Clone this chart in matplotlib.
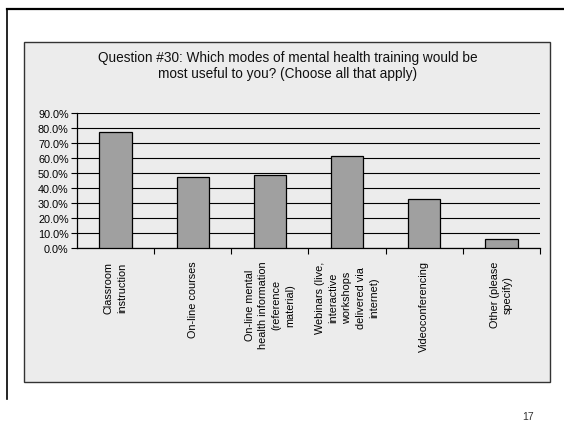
import matplotlib
matplotlib.use("Agg")
import matplotlib.pyplot as plt
from matplotlib.patches import Rectangle
from matplotlib.lines import Line2D
from matplotlib.ticker import FixedLocator, FuncFormatter

plt.rcParams["font.family"] = ["Liberation Sans", "DejaVu Sans"]

categories = [
    "Classroom\ninstruction",
    "On-line courses",
    "On-line mental\nhealth information\n(reference\nmaterial)",
    "Webinars (live,\ninteractive\nworkshops\ndelivered via\ninternet)",
    "Videoconferencing",
    "Other (please\nspecify)",
]
values = [77.3, 47.3, 48.7, 61.3, 32.7, 6.0]
y_ticks = [0, 10, 20, 30, 40, 50, 60, 70, 80, 90]
title = ("Question #30: Which modes of mental health training would be\n"
         "most useful to you? (Choose all that apply)")
page_no = "17"

W, H = 564, 427
fig = plt.figure(figsize=(W / 100, H / 100), dpi=100)
fig.patch.set_facecolor("white")

# page frame (top + left edge of the scanned slide)
fig.add_artist(Line2D([7 / W, 1.0], [1 - 10 / H, 1 - 10 / H], color="black", lw=1.6))
fig.add_artist(Line2D([7 / W, 7 / W], [1 - 10 / H, 1 - 400 / H], color="black", lw=1.2))

# chart box
box_l, box_r, box_t, box_b = 24, 550, 43, 383
fig.add_artist(Rectangle((box_l / W, 1 - box_b / H), (box_r - box_l) / W, (box_b - box_t) / H,
                         facecolor="#ececec", edgecolor="#333333", lw=1.0, zorder=0))

fig.text(288 / W, 1 - 66 / H, title, ha="center", va="center", fontsize=9.8,
         linespacing=1.2, color="#111111")

# plot area
ax_l, ax_r, ax_t, ax_b = 77, 540, 114, 249
ax = fig.add_axes([ax_l / W, 1 - ax_b / H, (ax_r - ax_l) / W, (ax_b - ax_t) / H])
ax.set_facecolor("none")

x = range(len(categories))
ax.bar(x, values, width=0.42, color="#a0a0a0", edgecolor="black", lw=0.9, zorder=3)

ax.set_xlim(-0.5, len(categories) - 0.5)
ax.set_ylim(0, 90)
ax.set_yticks(y_ticks)
ax.yaxis.set_major_formatter(FuncFormatter(lambda v, p: f"{v:.1f}%"))
ax.tick_params(axis="y", direction="out", length=4, width=0.8, labelsize=7.8, pad=2)
ax.yaxis.grid(True, color="black", lw=0.8)
ax.set_axisbelow(True)

ax.set_xticks(list(x))
ax.set_xticklabels(categories, rotation=90, fontsize=7.8, va="top", ha="center",
                   multialignment="center", linespacing=1.45)
ax.tick_params(axis="x", which="major", length=0, pad=9)
ax.xaxis.set_minor_locator(FixedLocator([i + 0.5 for i in range(len(categories))]))
ax.tick_params(axis="x", which="minor", direction="out", length=4, width=0.8)

for s in ["top", "right"]:
    ax.spines[s].set_visible(False)
ax.spines["left"].set_linewidth(0.9)
ax.spines["bottom"].set_linewidth(0.9)

fig.text(528 / W, 1 - 417 / H, page_no, ha="center", va="center", fontsize=7.5, color="#333333")

fig.savefig("out.png", dpi=100)
